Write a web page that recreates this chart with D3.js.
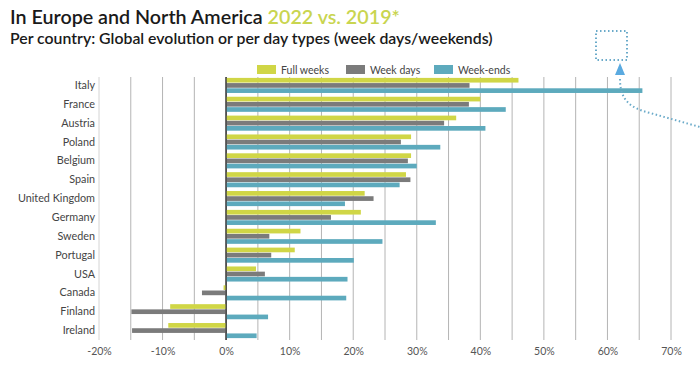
<!DOCTYPE html>
<html>
<head>
<meta charset="utf-8">
<script src="https://cdn.jsdelivr.net/npm/d3@7"></script>
<style>
  body { margin: 0; background: #fff; }
  svg { display: block; font-family: "Lato", "Noto Sans", sans-serif; }
</style>
</head>
<body>
<div id="chart"></div>
<script>
// countries top to bottom
var countries = ["Italy", "France", "Austria", "Poland", "Belgium", "Spain", "United Kingdom",
  "Germany", "Sweden", "Portugal", "USA", "Canada", "Finland", "Ireland"];
var seriesNames = ["Full weeks", "Week days", "Week-ends"];
var fullWeeks = [46.0, 40.0, 36.2, 29.1, 29.1, 28.3, 21.8, 21.2, 11.7, 10.8, 4.7, -0.4, -8.8, -9.1];
var weekDays  = [38.3, 38.2, 34.3, 27.5, 28.6, 29.0, 23.2, 16.5, 6.8, 7.1, 6.1, -3.8, -14.9, -14.8];
var weekEnds  = [65.5, 44.0, 40.8, 33.7, 30.0, 27.3, 18.7, 33.0, 24.6, 20.1, 19.1, 18.9, 6.6, 4.8];
var tickValues = [-20, -10, 0, 10, 20, 30, 40, 50, 60, 70];

var colors = ["#d0d646", "#7b7b7b", "#5daabd"];
var allSeries = [fullWeeks, weekDays, weekEnds];

var width = 700, height = 377;

var svg = d3.select("#chart").append("svg")
  .attr("width", width)
  .attr("height", height);

// shrink/grow a text's font so it spans the wanted width
function fitWidth(sel, target) {
  var fs = parseFloat(sel.style("font-size"));
  var w = sel.node().getComputedTextLength();
  sel.style("font-size", (fs * target / w).toFixed(2) + "px");
}

// title
var title = svg.append("text")
  .attr("x", 10).attr("y", 24)
  .style("font-size", "19px")
  .style("font-weight", "600");
title.append("tspan").attr("fill", "#1a1a1a").text("In Europe and North America ");
title.append("tspan").attr("fill", "#c9d54f").text("2022 vs. 2019*");
fitWidth(title, 390);

var sub = svg.append("text")
  .attr("x", 10).attr("y", 44)
  .attr("fill", "#1a1a1a")
  .style("font-size", "13.5px")
  .style("font-weight", "600")
  .text("Per country: Global evolution or per day types (week days/weekends)");
fitWidth(sub, 483);

var x = d3.scaleLinear().domain([-20, 70]).range([99, 671]);
var y = d3.scaleBand().domain(countries).range([76, 340]).paddingInner(0.2).paddingOuter(0.1);
var ySub = d3.scaleBand().domain(seriesNames).range([0, y.bandwidth()]).paddingInner(0.1);

// gridlines every 5%
var gridVals = d3.range(-20, 71, 5);
svg.append("g").selectAll("line")
  .data(gridVals)
  .join("line")
    .attr("x1", d => x(d)).attr("x2", d => x(d))
    .attr("y1", 77).attr("y2", 340)
    .attr("stroke", d => d === 0 ? "#444" : (d === -20 ? "#d4d4d4" : "#b4b4b4"))
    .attr("stroke-width", d => d === 0 ? 1.4 : 1);

// bars
var rows = [];
countries.forEach(function(c, i) {
  seriesNames.forEach(function(s, j) {
    rows.push({country: c, series: s, value: allSeries[j][i], color: colors[j]});
  });
});

svg.append("g").selectAll("rect")
  .data(rows)
  .join("rect")
    .attr("x", d => x(Math.min(0, d.value)))
    .attr("width", d => Math.abs(x(d.value) - x(0)))
    .attr("y", d => y(d.country) + ySub(d.series))
    .attr("height", ySub.bandwidth())
    .attr("fill", d => d.color);

// redraw zero line on top
svg.append("line")
  .attr("x1", x(0)).attr("x2", x(0))
  .attr("y1", 77).attr("y2", 340)
  .attr("stroke", "#444").attr("stroke-width", 1.2);

// country labels
svg.append("g").selectAll("text")
  .data(countries)
  .join("text")
    .attr("x", 95)
    .attr("y", d => y(d) + y.bandwidth() / 2 + 3.5)
    .attr("text-anchor", "end")
    .attr("fill", "#444")
    .style("font-size", "10.8px")
    .text(d => d);

// x axis labels
var xAxis = d3.axisBottom(x).tickValues(tickValues).tickFormat(d => d + "%").tickSize(0).tickPadding(0);
var ax = svg.append("g").attr("transform", "translate(0,348)").call(xAxis);
ax.select(".domain").remove();
ax.selectAll("text").attr("fill", "#555").style("font-size", "10.5px").style("font-family", "Lato, sans-serif");

// legend
var legX = [257, 346, 434];
var leg = svg.append("g").selectAll("g")
  .data(seriesNames)
  .join("g")
    .attr("transform", (d, i) => "translate(" + legX[i] + ",65)");
leg.append("rect").attr("width", 19).attr("height", 9).attr("fill", (d, i) => colors[i]);
leg.append("text").attr("x", 24).attr("y", 8.5).attr("fill", "#444")
  .style("font-size", "10.5px").text(d => d);

// decoration: dotted box, arrow and dotted curve
var deco = "#6aaac9";
svg.append("rect")
  .attr("x", 596).attr("y", 31).attr("width", 31).attr("height", 29)
  .attr("fill", "none").attr("stroke", deco).attr("stroke-width", 2)
  .attr("stroke-dasharray", "1.5,2.5");
svg.append("path")
  .attr("d", "M620,63 L615,75 L625,75 Z")
  .attr("fill", "#5aaae0");
svg.append("path")
  .attr("d", "M620,79 C620,100 630,108 650,113 L700,127")
  .attr("fill", "none").attr("stroke", deco).attr("stroke-width", 2)
  .attr("stroke-dasharray", "1.5,2.5");
</script>
</body>
</html>
